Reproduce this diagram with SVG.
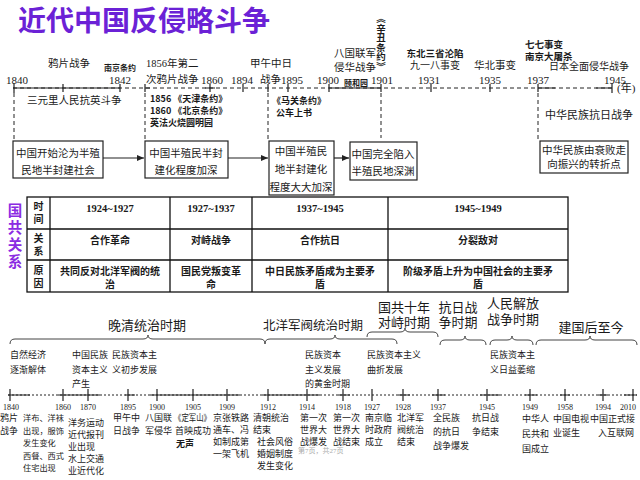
<svg xmlns="http://www.w3.org/2000/svg" width="640" height="480" viewBox="0 0 640 480">
<style>
.t{font-family:"Liberation Serif","Noto Sans CJK SC",serif;fill:#1a1a1a}
.c{font-family:"Noto Sans CJK SC","Liberation Sans",sans-serif;fill:#1a1a1a}
.f105{font-size:10.5px}
.f9{font-size:9px}
.f8{font-size:8px}
.f11{font-size:11px}
.f13{font-size:13px}
.b{font-weight:700}
.m{text-anchor:middle}
.ln{stroke:#222;stroke-width:1.2;fill:none}
.dash{stroke:#222;stroke-width:1;stroke-dasharray:4 3;fill:none}
.dot{stroke:#222;stroke-width:1;stroke-dasharray:2 2;fill:none}
.box{fill:#fff;stroke:#222;stroke-width:1.2}
.br{stroke:#444;stroke-width:1;fill:none}
.tb{fill:none;stroke:#111;stroke-width:1.3}
.pu{fill:#8b2be2}
</style>
<defs>
<marker id="ah" markerWidth="8" markerHeight="8" refX="7" refY="4" orient="auto" markerUnits="userSpaceOnUse">
<path d="M0,1 L7,4 L0,7 Z" fill="#222"/>
</marker>
</defs>
<rect width="640" height="480" fill="#fff"/>

<g id="title">
<text x="18" y="31" class="c b" style="font-size:28px;fill:#6b21d6">近代中国反侵略斗争</text>
</g>

<g id="top-timeline">
<line x1="13" y1="88" x2="612" y2="88" class="dash"/>
<path d="M13,88H120 M145,88H150 M205,88H215 M329,88H381 M538,88H555 M596,88H612" class="ln"/>
<path d="M14,83V93 M63,84V92 M120,84V92 M145,84V92 M210,84V92 M243,84V92 M268,84V92 M288,84V92 M329,84V92 M381,84V92 M431,84V92 M490,84V92 M538,84V92 M612,83V93" class="ln"/>
<g class="t f11 m">
<text x="17" y="84">1840</text>
<text x="120" y="84">1842</text>
<text x="212" y="84">1860</text>
<text x="242" y="84">1894</text>
<text x="292" y="84">1895</text>
<text x="328" y="84">1900</text>
<text x="382" y="84">1901</text>
<text x="429" y="84">1931</text>
<text x="490" y="84">1935</text>
<text x="538" y="84">1937</text>
<text x="615" y="84">1945</text>
</g>
<text x="617" y="92" class="t f11">(年)</text>
</g>

<g id="top-events">
<text x="69" y="67" class="t f105 m">鸦片战争</text>
<text x="120" y="71" class="c f8 b m">南京条约</text>
<text x="146" y="67" class="t f105">1856年第二</text>
<text x="146" y="83" class="t f105">次鸦片战争</text>
<text x="250" y="67" class="t f105">甲午中日</text>
<text x="260" y="83" class="t f105">战争</text>
<text x="355" y="57" class="t f105 m">八国联军</text>
<text x="355" y="71" class="t f105 m">侵华战争</text>
<text x="356" y="86" class="c f8 b m">颐和园</text>
<text x="381" y="14" class="c b" style="font-size:9.5px;writing-mode:vertical-rl">《辛丑条约》</text>
<text x="435" y="57" class="c b m" style="font-size:9.5px">东北三省沦陷</text>
<text x="435" y="69" class="t m" style="font-size:10px">九一八事变</text>
<text x="495" y="69" class="t f105 m">华北事变</text>
<text x="525" y="48" class="c b" style="font-size:9.5px">七七事变</text>
<text x="525" y="60" class="c b" style="font-size:9.5px">南京大屠杀</text>
<text x="549" y="70" class="t" style="font-size:10px">日本全面侵华战争</text>
</g>

<g id="under-events">
<text x="27" y="104" class="t f105">三元里人民抗英斗争</text>
<text x="150" y="102" class="c b f9">1856 《天津条约》</text>
<text x="150" y="114" class="c b f9">1860 《北京条约》</text>
<text x="150" y="126" class="c b f9">英法火烧圆明园</text>
<text x="272" y="104" class="c b f9">《马关条约》</text>
<text x="276" y="116" class="c b f9">公车上书</text>
<text x="545" y="119" class="t f11">中华民族抗日战争</text>
</g>

<g id="connectors">
<path d="M14,93V141 M145,93V141 M268,93V141 M381,93V138 M538,93V141" class="dash"/>
<line x1="103" y1="158" x2="144" y2="158" class="ln" marker-end="url(#ah)"/>
<line x1="228" y1="158" x2="268" y2="158" class="ln" marker-end="url(#ah)"/>
<line x1="334" y1="158" x2="349" y2="158" class="ln" marker-end="url(#ah)"/>
</g>

<g id="box1">
<rect x="13" y="141" width="90" height="37" class="box"/>
<text x="58" y="157" class="t f105 m">中国开始沦为半殖</text>
<text x="58" y="174" class="t f105 m">民地半封建社会</text>
</g>
<g id="box2">
<rect x="145" y="141" width="83" height="37" class="box"/>
<text x="186" y="157" class="t f105 m">中国半殖民半封</text>
<text x="186" y="174" class="t f105 m">建化程度加深</text>
</g>
<g id="box3">
<rect x="269" y="141" width="65" height="54" class="box"/>
<text x="301" y="155" class="t f105 m">中国半殖民</text>
<text x="301" y="173" class="t f105 m">地半封建化</text>
<text x="301" y="191" class="t f105 m">程度大大加深</text>
</g>
<g id="box4">
<rect x="350" y="142" width="67" height="38" class="box"/>
<text x="383" y="158" class="t f105 m">中国完全陷入</text>
<text x="383" y="175" class="t f105 m">半殖民地深渊</text>
</g>
<g id="box5">
<rect x="540" y="141" width="88" height="32" class="box"/>
<text x="584" y="154" class="t f105 m">中华民族由衰败走</text>
<text x="584" y="168" class="t f105 m">向振兴的转折点</text>
</g>

<g id="side-label" class="c b m" style="font-size:14.5px">
<text x="15" y="216" class="pu">国</text>
<text x="15" y="233" class="pu">共</text>
<text x="15" y="250" class="pu">关</text>
<text x="15" y="267" class="pu">系</text>
</g>

<g id="table">
<rect x="27" y="197" width="541" height="95" class="tb"/>
<path d="M50,197V292 M170,197V292 M252,197V292 M388,197V292 M27,229H568 M27,260H568" class="tb"/>
<g class="c b m" style="font-size:10px">
<text x="38.5" y="210">时</text><text x="38.5" y="223">间</text>
<text x="38.5" y="242">关</text><text x="38.5" y="255">系</text>
<text x="38.5" y="274">原</text><text x="38.5" y="287">因</text>
</g>
<g class="t b m" style="font-size:10.5px">
<text x="110" y="212">1924~1927</text>
<text x="211" y="212">1927~1937</text>
<text x="320" y="212">1937~1945</text>
<text x="478" y="212">1945~1949</text>
</g>
<g class="c b m" style="font-size:10px">
<text x="110" y="244">合作革命</text>
<text x="211" y="244">对峙战争</text>
<text x="320" y="244">合作抗日</text>
<text x="478" y="244">分裂敌对</text>
<text x="110" y="275">共同反对北洋军阀的统</text>
<text x="110" y="288">治</text>
<text x="211" y="275">国民党叛变革</text>
<text x="211" y="288">命</text>
<text x="320" y="275">中日民族矛盾成为主要矛</text>
<text x="320" y="288">盾</text>
<text x="478" y="275">阶级矛盾上升为中国社会的主要矛</text>
<text x="478" y="288">盾</text>
</g>
</g>

<g id="periods">
<text x="147" y="330" class="t f13 m">晚清统治时期</text>
<text x="313" y="330" class="t m" style="font-size:12.5px">北洋军阀统治时期</text>
<text x="404" y="312" class="t f13 m">国共十年</text>
<text x="404" y="327" class="t f13 m">对峙时期</text>
<text x="458" y="312" class="t f13 m">抗日战</text>
<text x="458" y="327" class="t f13 m">争时期</text>
<text x="513" y="308" class="t f13 m">人民解放</text>
<text x="513" y="324" class="t f13 m">战争时期</text>
<text x="591" y="332" class="t f13 m">建国后至今</text>
<path class="br" d="M10,344 Q10,339 15,339 L143,339 Q148,339 148,335 Q148,339 153,339 L260,339 Q265,339 265,344"/>
<path class="br" d="M265,344 Q265,339 270,339 L330,339 Q335,339 335,335 Q335,339 340,339 L392,339 Q397,339 397,344"/>
<path class="br" d="M367,337 Q367,332 372,332 L400,332 Q405,332 405,328 Q405,332 410,332 L433,332 Q438,332 438,337"/>
<path class="br" d="M440,345 Q440,340 445,340 L460,340 Q465,340 465,336 Q465,340 470,340 L481,340 Q486,340 486,345"/>
<path class="br" d="M490,345 Q490,340 495,340 L507,340 Q512,340 512,336 Q512,340 517,340 L528,340 Q533,340 533,345"/>
<path class="br" d="M536,345 Q536,340 541,340 L585,340 Q590,340 590,336 Q590,340 595,340 L632,340 Q637,340 637,345"/>
</g>

<g id="period-notes" class="t f9">
<text x="10" y="358">自然经济</text><text x="10" y="373">逐渐解体</text>
<text x="72" y="358">中国民族</text><text x="72" y="373">资本主义</text><text x="72" y="387">产生</text>
<text x="112" y="358">民族资本主</text><text x="112" y="373">义初步发展</text>
<text x="305" y="358">民族资本</text><text x="305" y="373">主义发展</text><text x="305" y="387">的黄金时期</text>
<text x="367" y="358">民族资本主义</text><text x="367" y="373">曲折发展</text>
<text x="490" y="358">民族资本主</text><text x="490" y="373">义日益萎缩</text>
</g>

<g id="bottom-timeline">
<line x1="8" y1="395" x2="637" y2="395" class="dot"/>
<path d="M8,395H30 M58,395H100 M125,395H135 M150,395H240 M262,395H320 M338,395H350 M398,395H410 M432,395H445 M480,395H500 M525,395H537 M560,395H570 M598,395H608 M624,395H637" class="ln"/>
<path d="M10,389V401 M63,389V401 M88,389V401 M128,389V401 M157,389V401 M193,389V401 M227,389V401 M268,389V401 M307,389V401 M343,389V401 M372,389V401 M403,389V401 M438,389V401 M487,389V401 M530,389V401 M565,389V401 M603,389V401 M633,389V401" class="ln"/>
<g class="t f8 m">
<text x="11" y="410">1840</text><text x="63" y="410">1860</text><text x="88" y="410">1870</text>
<text x="128" y="410">1895</text><text x="157" y="410">1900</text><text x="193" y="410">1905</text>
<text x="227" y="410">1909</text><text x="268" y="410">1912</text><text x="307" y="410">1914</text>
<text x="343" y="410">1918</text><text x="372" y="410">1927</text><text x="403" y="410">1928</text>
<text x="438" y="410">1937</text><text x="487" y="410">1945</text><text x="530" y="410">1949</text>
<text x="565" y="410">1958</text><text x="603" y="410">1994</text><text x="628" y="410">2010</text>
</g>
</g>

<g id="bottom-events" class="t f9">
<text x="0" y="421">鸦片</text><text x="0" y="434">战争</text>
<g style="font-size:8.2px">
<text x="23" y="421">洋布、洋袜</text><text x="23" y="434">出现，服饰</text><text x="23" y="446">发生变化</text><text x="23" y="459">西餐、西式</text><text x="23" y="471">住宅出现</text>
</g>
<text x="68" y="426">洋务运动</text><text x="68" y="438">近代报刊</text><text x="68" y="450">业出现</text><text x="68" y="462">水上交通</text><text x="68" y="474">业近代化</text>
<text x="113" y="421">甲午中</text><text x="113" y="434">日战争</text>
<text x="145" y="421">八国联</text><text x="145" y="434">军侵华</text>
<text x="174" y="421" textLength="37" lengthAdjust="spacingAndGlyphs">《定军山》</text><text x="175" y="434">首映成功</text>
<text x="176" y="447" class="c b f9">无声</text>
<text x="213" y="421">京张铁路</text><text x="213" y="433">通车、冯</text><text x="213" y="445">如制成第</text><text x="213" y="457">一架飞机</text>
<text x="253" y="421">清朝统治</text><text x="253" y="433">结束</text><text x="257" y="445">社会风俗</text><text x="257" y="457">婚姻制度</text><text x="257" y="469">发生变化</text>
<text x="300" y="421">第一次</text><text x="300" y="433">世界大</text><text x="300" y="445">战爆发</text>
<text x="333" y="421">第一次</text><text x="333" y="433">世界大</text><text x="333" y="445">战结束</text>
<text x="365" y="421">南京临</text><text x="365" y="433">时政府</text><text x="365" y="445">成立</text>
<text x="397" y="421">北洋军</text><text x="397" y="433">阀统治</text><text x="397" y="445">结束</text>
<text x="433" y="421">全民族</text><text x="433" y="435">的抗日</text><text x="433" y="449">战争爆发</text>
<text x="472" y="421">抗日战</text><text x="472" y="435">争结束</text>
<text x="522" y="422">中华人</text><text x="522" y="437">民共和</text><text x="522" y="452">国成立</text>
<text x="553" y="422">中国电视</text><text x="553" y="436">业诞生</text>
<text x="590" y="422">中国正式接</text><text x="598" y="436">入互联网</text>
<text x="298" y="453" style="font-size:7px;fill:#aaa">第7页，共27页</text>
</g>
</svg>
